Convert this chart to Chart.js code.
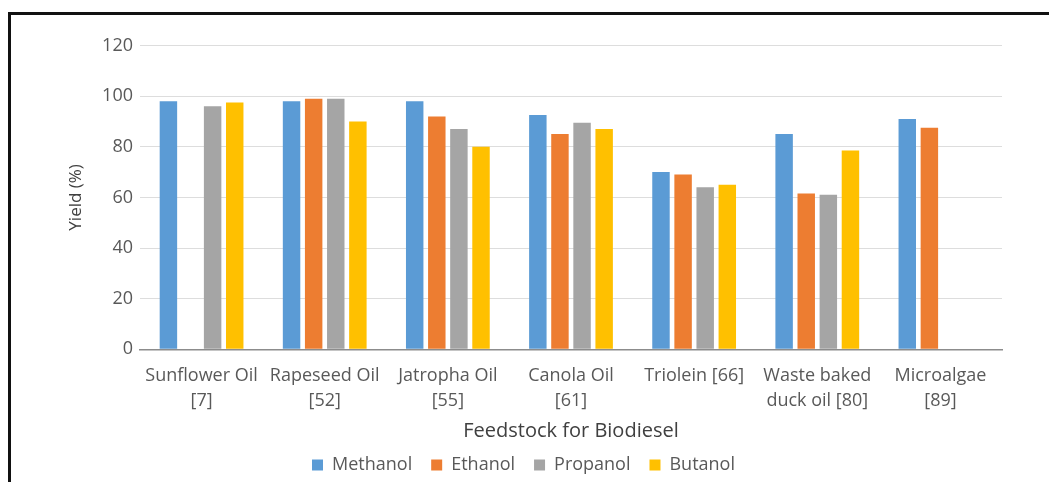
<!DOCTYPE html>
<html>
<head>
<meta charset="utf-8">
<script src="https://cdn.jsdelivr.net/npm/chart.js@4/dist/chart.umd.min.js"></script>
<style>
  html, body { margin: 0; padding: 0; background: #fff; overflow: hidden; }
  #wrap { position: relative; width: 1049px; height: 482px; }
  #frame { position: absolute; left: 8px; top: 12px; width: 1100px; height: 520px;
           border: 3px solid #111; box-sizing: border-box; }
  #c { position: absolute; left: 0; top: 0; }
</style>
</head>
<body>
<div id="wrap">
  <div id="frame"></div>
  <canvas id="c" width="1049" height="482"></canvas>
</div>
<script>
// Feedstocks (x categories), two-line labels
const categories = [
  ['Sunflower Oil', '[7]'],
  ['Rapeseed Oil', '[52]'],
  ['Jatropha Oil', '[55]'],
  ['Canola Oil', '[61]'],
  ['Triolein [66]'],
  ['Waste baked', 'duck oil [80]'],
  ['Microalgae', '[89]']
];

// Biodiesel yield (%) per alcohol
const methanol = [98, 98, 98, 92.5, 70, 85, 91];
const ethanol  = [null, 99, 92, 85, 69, 61.5, 87.5];
const propanol = [96, 99, 87, 89.5, 64, 61, null];
const butanol  = [97.5, 90, 80, 87, 65, 78.5, null];

const yTicks = [0, 20, 40, 60, 80, 100, 120];

const seriesNames = ['Methanol', 'Ethanol', 'Propanol', 'Butanol'];
const seriesColors = ['#5B9BD5', '#ED7D31', '#A5A5A5', '#FFC000'];
const seriesData = [methanol, ethanol, propanol, butanol];

const font = '"Open Sans", Lato, sans-serif';
const textColor = '#595959';

new Chart(document.getElementById('c'), {
  type: 'bar',
  data: {
    labels: categories,
    datasets: seriesNames.map((name, i) => ({
      label: name,
      data: seriesData[i],
      backgroundColor: seriesColors[i],
      borderWidth: 0,
      categoryPercentage: 0.718,
      barPercentage: 0.79
    }))
  },
  options: {
    responsive: false,
    animation: false,
    devicePixelRatio: 1,
    layout: { padding: { left: 45, right: 47, top: 45.5, bottom: -2 } },
    plugins: {
      tooltip: { enabled: false },
      legend: {
        position: 'bottom',
        labels: {
          color: textColor,
          font: { family: font, size: 18 },
          boxWidth: 11,
          boxHeight: 11,
          padding: 19
        }
      }
    },
    scales: {
      x: {
        grid: { display: false, drawTicks: false },
        border: { display: true, color: '#8c8c8c', width: 1.5 },
        ticks: {
          color: textColor,
          font: { family: font, size: 18, lineHeight: 1.39 },
          padding: 13.7,
          maxRotation: 0,
          autoSkip: false
        },
        title: {
          display: true,
          text: 'Feedstock for Biodiesel',
          color: '#404040',
          font: { family: font, size: 20 },
          padding: { top: -7.7, bottom: -6 }
        }
      },
      y: {
        min: 0,
        max: 120,
        afterBuildTicks: s => { s.ticks = yTicks.map(v => ({ value: v })); },
        afterFit: s => { s.width = 95; },
        grid: { color: '#DDDDDD', lineWidth: 1, drawTicks: false },
        border: { display: false },
        ticks: {
          color: textColor,
          font: { family: font, size: 18 },
          padding: 7
        },
        title: {
          display: true,
          text: 'Yield (%)',
          color: '#404040',
          font: { family: font, size: 17 },
          padding: { top: 21, bottom: 0 }
        }
      }
    }
  }
});
</script>
</body>
</html>
